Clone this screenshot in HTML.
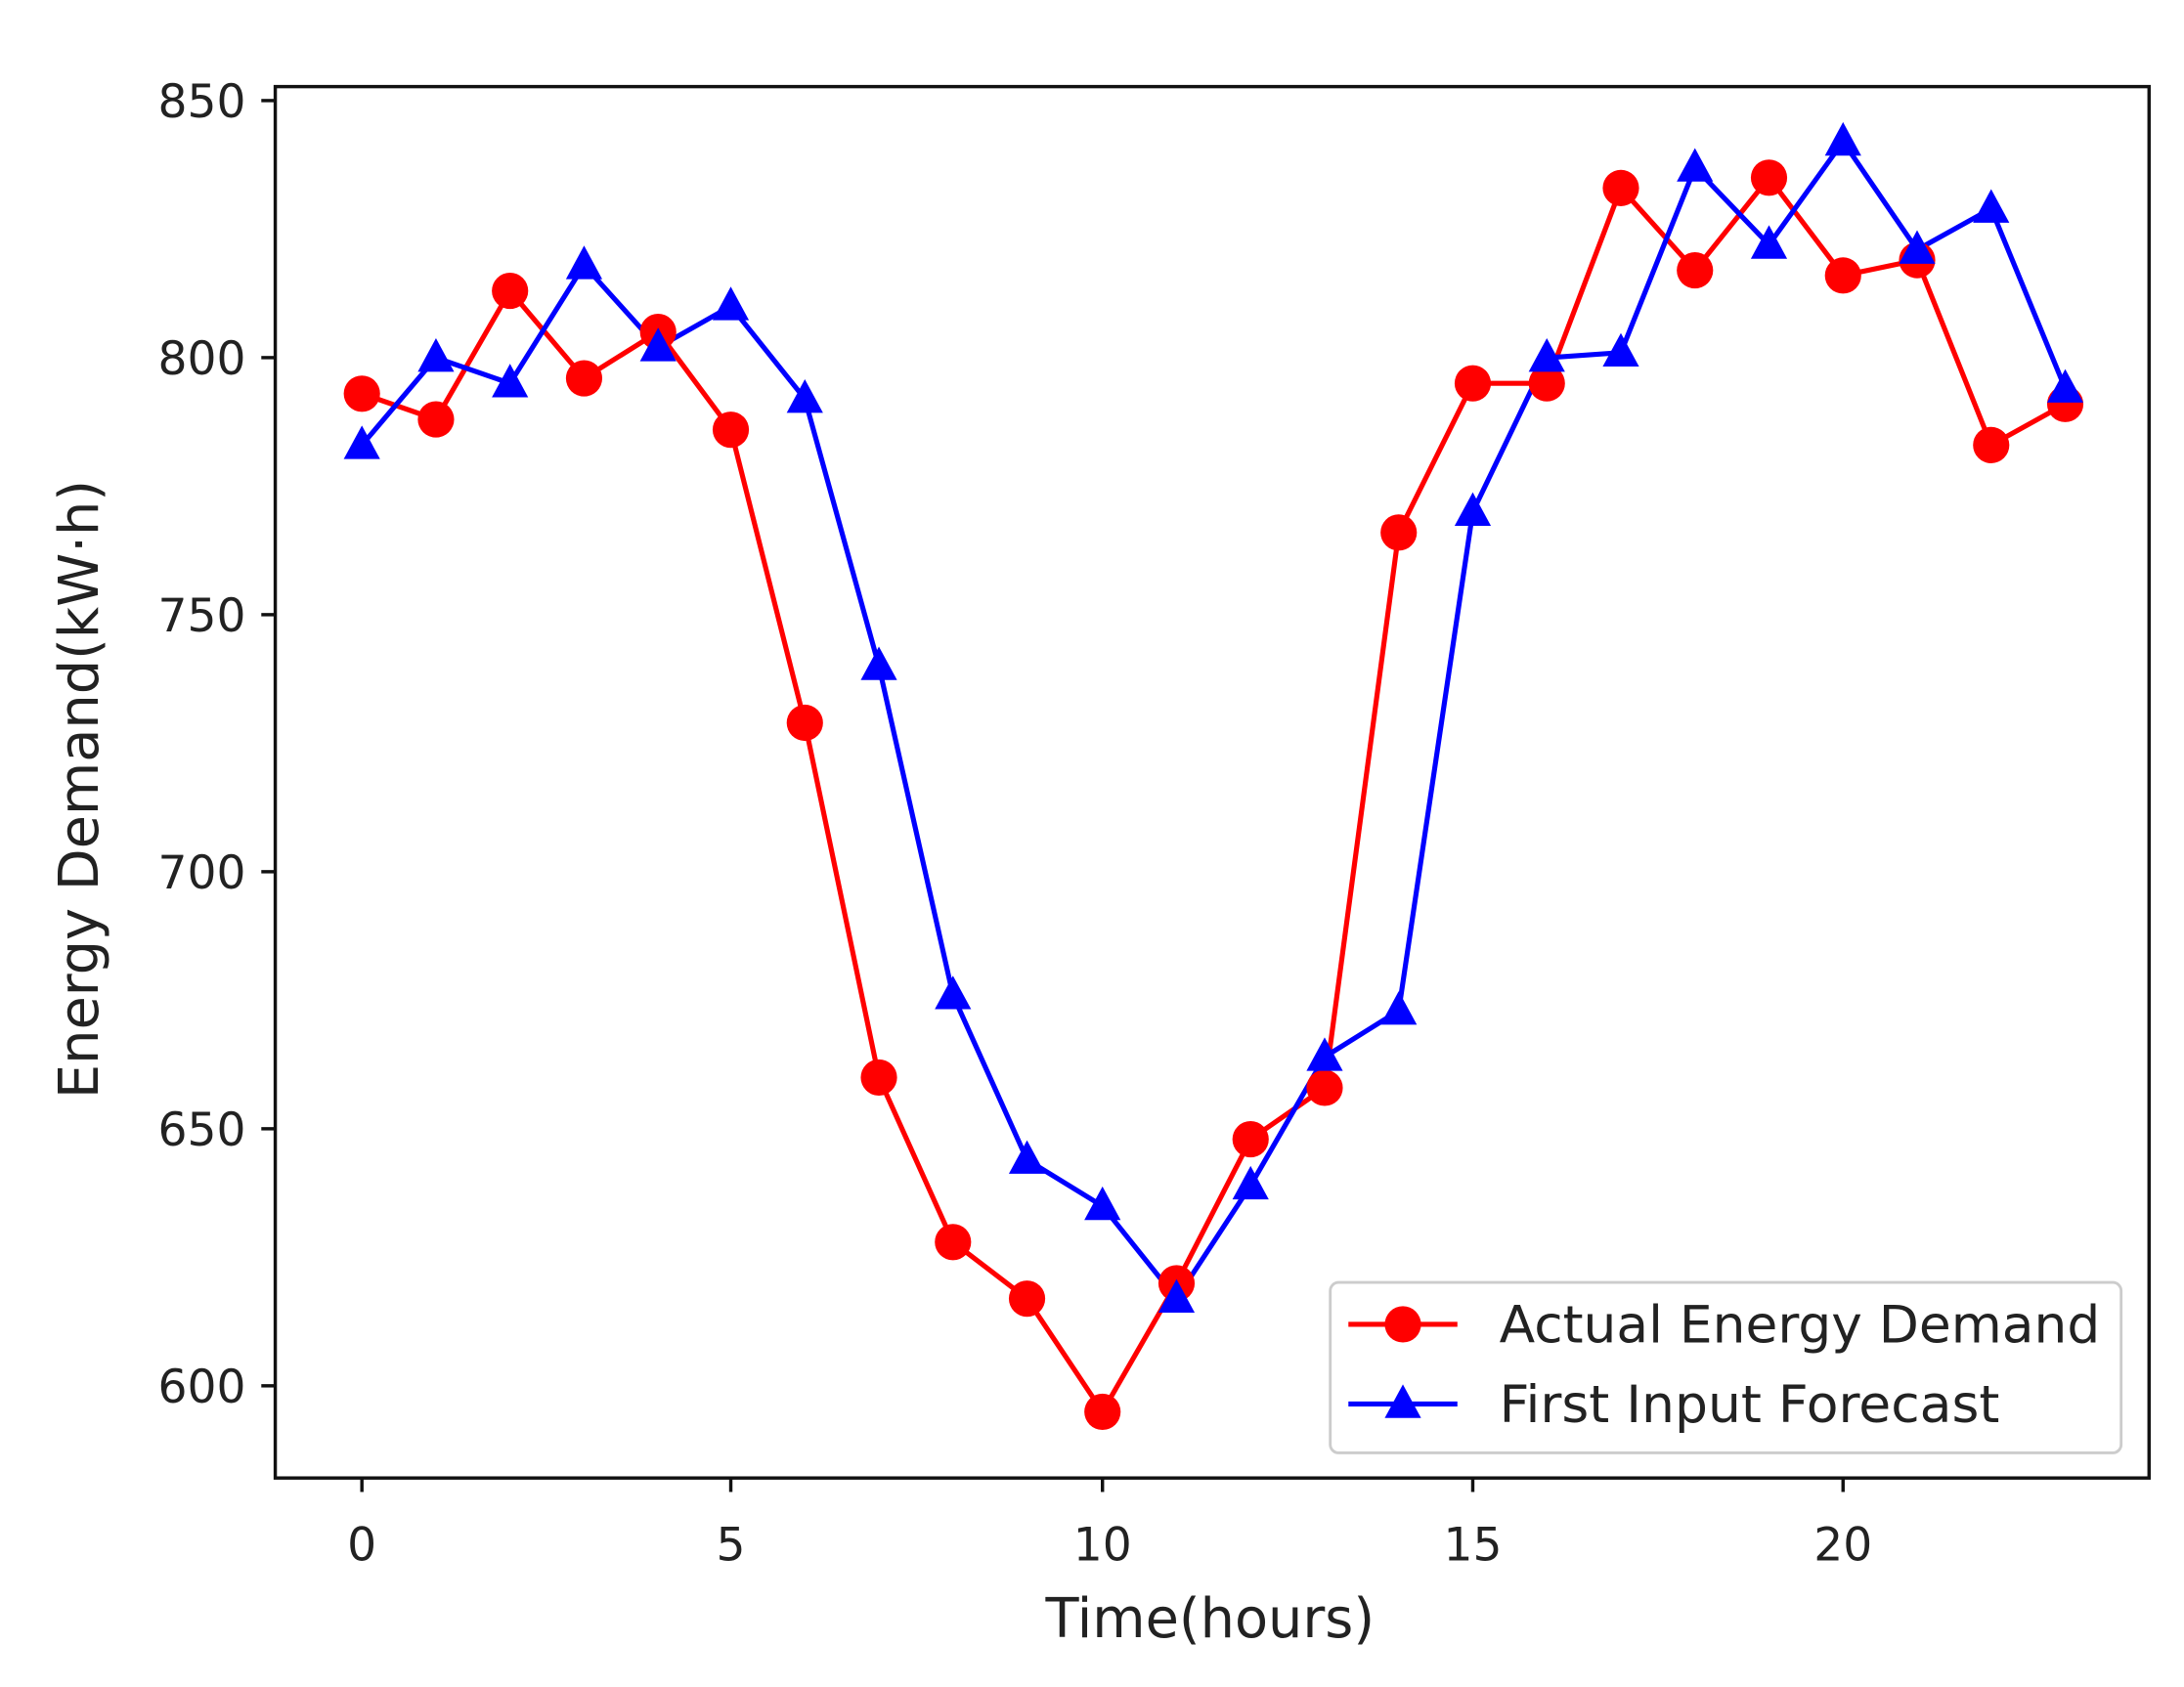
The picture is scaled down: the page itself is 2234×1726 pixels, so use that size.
<!DOCTYPE html>
<html><head><meta charset="utf-8"><style>html,body{margin:0;padding:0;background:#fff}svg{display:block}</style></head>
<body>
<svg width="2234" height="1726" viewBox="0 0 1563 1207.6" preserveAspectRatio="none" xmlns="http://www.w3.org/2000/svg" font-family="'DejaVu Sans','Liberation Sans',sans-serif" fill="#222">
<rect x="0" y="0" width="1563" height="1207.6" fill="#fff"/>
<g stroke="#111" stroke-width="2.4" fill="none">
<rect x="197" y="62" width="1341" height="996"/>
<line x1="259" y1="1058" x2="259" y2="1068"/><line x1="523" y1="1058" x2="523" y2="1068"/><line x1="789" y1="1058" x2="789" y2="1068"/><line x1="1054" y1="1058" x2="1054" y2="1068"/><line x1="1319" y1="1058" x2="1319" y2="1068"/>
<line x1="187" y1="72" x2="197" y2="72"/><line x1="187" y1="256" x2="197" y2="256"/><line x1="187" y1="440" x2="197" y2="440"/><line x1="187" y1="624" x2="197" y2="624"/><line x1="187" y1="808" x2="197" y2="808"/><line x1="187" y1="992" x2="197" y2="992"/>
</g>
<g font-size="33" text-anchor="middle">
<text x="259" y="1117">0</text><text x="523" y="1117">5</text><text x="789" y="1117">10</text><text x="1054" y="1117">15</text><text x="1319" y="1117">20</text>
</g>
<g font-size="33" text-anchor="end">
<text x="176" y="84">850</text><text x="176" y="268">800</text><text x="176" y="452">750</text><text x="176" y="636">700</text><text x="176" y="820">650</text><text x="176" y="1004">600</text>
</g>
<text x="866" y="1172" font-size="39" text-anchor="middle">Time(hours)</text>
<text transform="translate(70,565) rotate(-90)" font-size="39" text-anchor="middle">Energy Demand(kW·h)</text>
<polyline fill="none" stroke="#f00" stroke-width="3.6" points="259,281.8 312,300.2 365,208.2 418,270.8 471,237.6 523,307.6 576,517.4 629,771.3 682,889.1 735,929.6 789,1010.6 842,918.6 895,815.5 948,778.7 1001,381.2 1054,274.4 1107,274.4 1160,134.6 1213,193.5 1266,127.2 1319,197.2 1372,186.2 1425,318.6 1478,289.2"/>
<polyline fill="none" stroke="#00f" stroke-width="3.6" points="259,318.6 312,256.1 365,274.4 418,189.8 471,248.6 523,219.2 576,285.5 629,476.8 682,712.4 735,830.2 789,863.3 842,929.6 895,848.6 948,756.6 1001,723.5 1054,366.4 1107,256.1 1160,252.4 1213,120 1266,175.2 1319,101.4 1372,178.8 1425,149.4 1478,278.2"/>
<g fill="#f00">
<circle cx="259" cy="281.8" r="13"/><circle cx="312" cy="300.2" r="13"/><circle cx="365" cy="208.2" r="13"/><circle cx="418" cy="270.8" r="13"/><circle cx="471" cy="237.6" r="13"/><circle cx="523" cy="307.6" r="13"/><circle cx="576" cy="517.4" r="13"/><circle cx="629" cy="771.3" r="13"/><circle cx="682" cy="889.1" r="13"/><circle cx="735" cy="929.6" r="13"/><circle cx="789" cy="1010.6" r="13"/><circle cx="842" cy="918.6" r="13"/><circle cx="895" cy="815.5" r="13"/><circle cx="948" cy="778.7" r="13"/><circle cx="1001" cy="381.2" r="13"/><circle cx="1054" cy="274.4" r="13"/><circle cx="1107" cy="274.4" r="13"/><circle cx="1160" cy="134.6" r="13"/><circle cx="1213" cy="193.5" r="13"/><circle cx="1266" cy="127.2" r="13"/><circle cx="1319" cy="197.2" r="13"/><circle cx="1372" cy="186.2" r="13"/><circle cx="1425" cy="318.6" r="13"/><circle cx="1478" cy="289.2" r="13"/>
</g>
<g fill="#00f">
<path d="M259,304.6 l13,24 h-26z"/><path d="M312,242.1 l13,24 h-26z"/><path d="M365,260.4 l13,24 h-26z"/><path d="M418,175.8 l13,24 h-26z"/><path d="M471,234.6 l13,24 h-26z"/><path d="M523,205.2 l13,24 h-26z"/><path d="M576,271.5 l13,24 h-26z"/><path d="M629,462.8 l13,24 h-26z"/><path d="M682,698.4 l13,24 h-26z"/><path d="M735,816.2 l13,24 h-26z"/><path d="M789,849.3 l13,24 h-26z"/><path d="M842,915.6 l13,24 h-26z"/><path d="M895,834.6 l13,24 h-26z"/><path d="M948,742.6 l13,24 h-26z"/><path d="M1001,709.5 l13,24 h-26z"/><path d="M1054,352.4 l13,24 h-26z"/><path d="M1107,242.1 l13,24 h-26z"/><path d="M1160,238.4 l13,24 h-26z"/><path d="M1213,106 l13,24 h-26z"/><path d="M1266,161.2 l13,24 h-26z"/><path d="M1319,87.4 l13,24 h-26z"/><path d="M1372,164.8 l13,24 h-26z"/><path d="M1425,135.4 l13,24 h-26z"/><path d="M1478,264.2 l13,24 h-26z"/>
</g>
<rect x="952" y="918" width="566" height="122" rx="6" fill="#fff" fill-opacity="0.85" stroke="#ccc" stroke-width="2"/>
<line x1="965" y1="948" x2="1043" y2="948" stroke="#f00" stroke-width="3.6"/>
<circle cx="1004" cy="948" r="13" fill="#f00"/>
<line x1="965" y1="1005" x2="1043" y2="1005" stroke="#00f" stroke-width="3.6"/>
<path d="M1004,991 l13,24 h-26z" fill="#00f"/>
<text x="1073" y="961" font-size="37" textLength="430" lengthAdjust="spacingAndGlyphs">Actual Energy Demand</text>
<text x="1073" y="1018" font-size="37" textLength="358" lengthAdjust="spacingAndGlyphs">First Input Forecast</text>
</svg>
</body></html>
